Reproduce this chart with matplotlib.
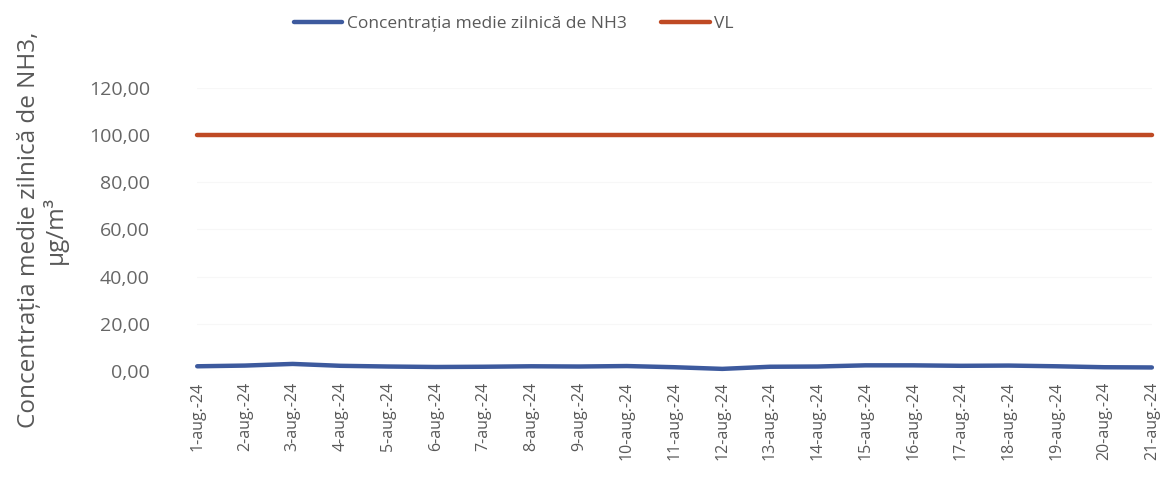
import matplotlib
matplotlib.use("Agg")
from matplotlib import pyplot as plt

days = ["%d-aug.-24" % d for d in range(1, 22)]
nh3 = [2.0, 2.3, 3.0, 2.2, 1.9, 1.7, 1.8, 2.0, 1.9, 2.1, 1.6,
       0.9, 1.8, 1.9, 2.4, 2.4, 2.2, 2.3, 2.0, 1.6, 1.5]
vl = [100.0] * 21
yticks = [0, 20, 40, 60, 80, 100, 120]

plt.rcParams['font.family'] = ['Open Sans', 'DejaVu Sans']
grey = '#595959'

fig = plt.figure(figsize=(11.6, 4.91), dpi=100)
ax = fig.add_axes([0.17, 0.2444, 0.823, 0.5764])

x = list(range(len(days)))
ax.plot(x, nh3, color='#3d5a9e', lw=3.2, solid_capstyle='round',
        clip_on=False, label='Concentrația medie zilnică de NH3', zorder=3)
ax.plot(x, vl, color='#bf4a24', lw=3.2, solid_capstyle='round',
        clip_on=False, label='VL', zorder=3)

ax.set_xlim(0, len(days) - 1)
ax.set_ylim(0, 120)
ax.set_yticks(yticks)
ax.set_yticklabels(['%d,00' % v for v in yticks], color='#666666', fontsize=14)
ax.set_xticks(x)
ax.set_xticklabels(days, rotation=90, color=grey, fontsize=11.5)
ax.tick_params(axis='y', length=0, pad=34)
ax.tick_params(axis='x', length=0, pad=8)
ax.grid(axis='y', color='#f7f7f7', lw=0.8)
for s in ax.spines.values():
    s.set_visible(False)

ax.set_ylabel('Concentrația medie zilnică de NH3,\nμg/m³', color=grey,
              fontsize=17.5, linespacing=1.05)
ax.yaxis.set_label_coords(-0.135, 0.5)

fig.legend(loc='upper center', bbox_to_anchor=(0.443, 1.0), ncol=2,
           frameon=False, fontsize=12.5, labelcolor=grey, handlelength=2.8,
           handletextpad=0.25, columnspacing=2.0)

fig.savefig('out.png', dpi=100)
